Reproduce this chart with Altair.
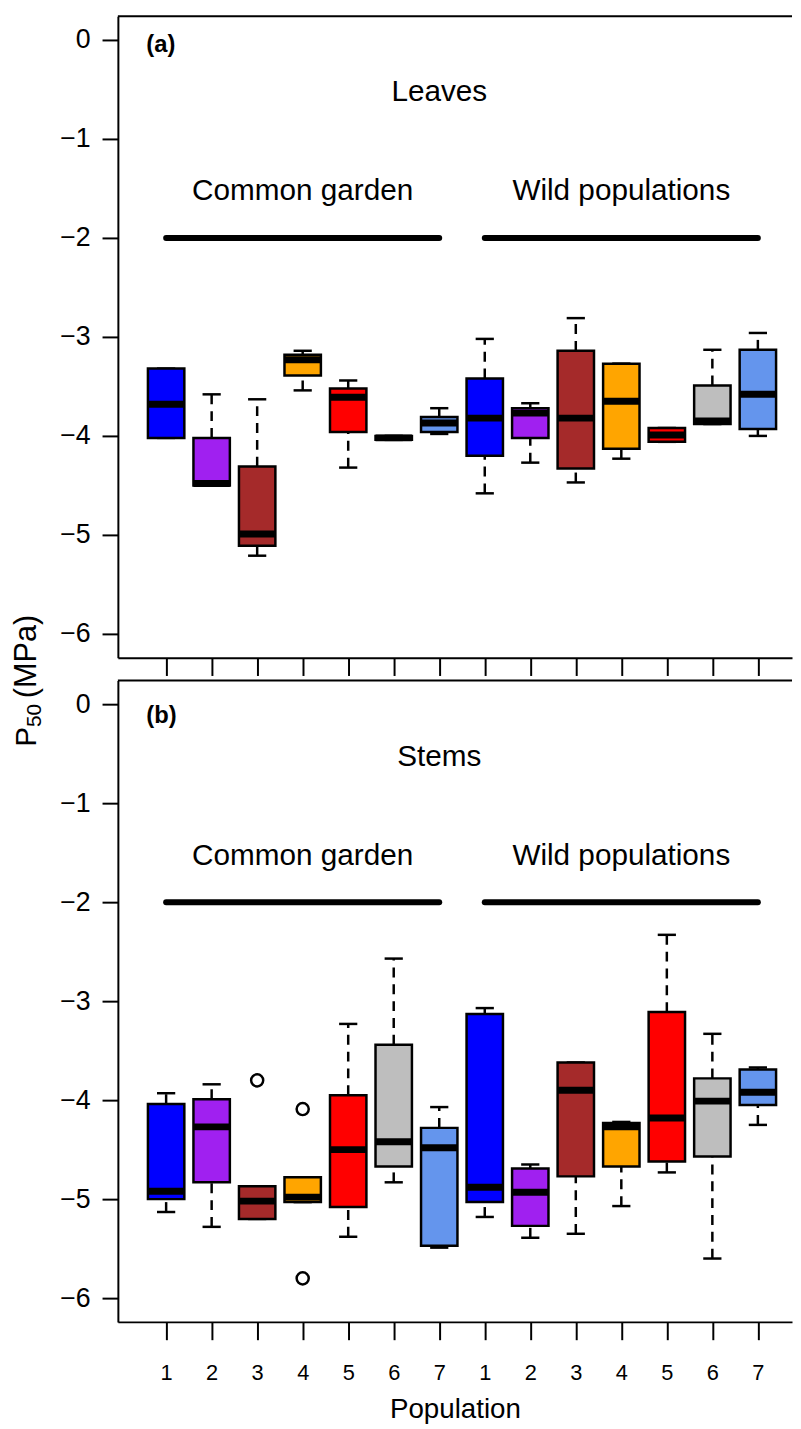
import altair as alt
import pandas as pd

# ---------------- data ----------------
positions = list(range(1, 15))
colors = ["#0000FF", "#A020F0", "#A52A2A", "#FFA500", "#FF0000", "#BEBEBE", "#6495ED"] * 2

# Leaves (panel a)
leaf_min = [-4.02, -4.50, -5.21, -3.54, -4.32, -4.04, -3.98, -4.58, -4.27, -4.47, -4.23, -4.06, -3.88, -4.00]
leaf_q1  = [-4.02, -4.50, -5.11, -3.39, -3.96, -4.04, -3.96, -4.20, -4.02, -4.33, -4.13, -4.06, -3.88, -3.93]
leaf_med = [-3.68, -4.48, -4.99, -3.23, -3.61, -4.02, -3.87, -3.82, -3.77, -3.82, -3.65, -3.99, -3.85, -3.58]
leaf_q3  = [-3.32, -4.02, -4.31, -3.18, -3.52, -4.00, -3.81, -3.42, -3.72, -3.14, -3.27, -3.92, -3.49, -3.13]
leaf_max = [-3.32, -3.58, -3.63, -3.14, -3.44, -4.00, -3.72, -3.02, -3.67, -2.81, -3.27, -3.92, -3.13, -2.96]
leaf_out_pos = []
leaf_out_val = []

# Stems (panel b)
stem_min = [-5.13, -5.28, -5.20, -5.03, -5.38, -4.83, -5.49, -5.18, -5.39, -5.35, -5.07, -4.73, -5.60, -4.25]
stem_q1  = [-5.00, -4.83, -5.20, -5.03, -5.08, -4.67, -5.47, -5.03, -5.27, -4.77, -4.67, -4.62, -4.57, -4.05]
stem_med = [-4.92, -4.27, -5.02, -4.98, -4.50, -4.42, -4.48, -4.88, -4.93, -3.90, -4.27, -4.18, -4.01, -3.92]
stem_q3  = [-4.04, -3.99, -4.87, -4.78, -3.95, -3.44, -4.28, -3.13, -4.69, -3.62, -4.23, -3.11, -3.78, -3.69]
stem_max = [-3.93, -3.84, -4.87, -4.78, -3.23, -2.57, -4.07, -3.07, -4.65, -3.62, -4.22, -2.33, -3.33, -3.67]
stem_out_pos = [3, 4, 4]
stem_out_val = [-3.80, -4.09, -5.80]

group_x1 = [1, 8]
group_x2 = [7, 14]
group_y = [-2, -2]
group_labels = ["Common garden", "Wild populations"]
group_label_x = [4, 11]
group_label_y = [-1.62, -1.62]

y_ticks = [-6, -5, -4, -3, -2, -1, 0]

FONT = "Liberation Sans"
W, H = 681, 648
XDOM = [-0.06, 14.75]
YDOM = [-6.24, 0.24]


def box_df(mins, q1s, meds, q3s, maxs):
    return pd.DataFrame({"pos": positions, "vmin": mins, "q1": q1s, "med": meds,
                         "q3": q3s, "vmax": maxs, "color": colors})


def panel(df, out_pos, out_val, tag, tag_y, organ, bottom_labels, extra=None):
    xs = alt.Scale(domain=XDOM, nice=False, zero=False)
    ys = alt.Scale(domain=YDOM, nice=False, zero=False)
    x_axis = alt.Axis(values=positions, tickSize=18, tickWidth=2, tickColor="black",
                      domain=True, domainColor="black", domainWidth=2, grid=False,
                      labels=bottom_labels,
                      labelExpr="datum.value > 7 ? '' + (datum.value - 7) : '' + datum.value",
                      labelFontSize=22, labelPadding=23, labelColor="black",
                      title="Population" if bottom_labels else None,
                      titleFontSize=28, titleFontWeight="normal", titlePadding=13,
                      titleColor="black")
    y_axis = alt.Axis(values=y_ticks, tickSize=16, tickWidth=2, tickColor="black",
                      domain=True, domainColor="black", domainWidth=2, grid=False,
                      labelFontSize=27, labelPadding=12, labelColor="black", title=None)

    def X(f):
        return alt.X(f, scale=xs, axis=x_axis)

    def Y(f):
        return alt.Y(f, scale=ys, axis=y_axis)

    base = alt.Chart(df).transform_calculate(
        lo="datum.pos - 0.4", hi="datum.pos + 0.4",
        clo="datum.pos - 0.2", chi="datum.pos + 0.2")

    wup = base.mark_rule(color="black", strokeWidth=2.5, strokeDash=[10, 7]).encode(
        x=X("pos:Q"), y=Y("q3:Q"), y2="vmax:Q")
    wdn = base.mark_rule(color="black", strokeWidth=2.5, strokeDash=[10, 7]).encode(
        x=X("pos:Q"), y=Y("vmin:Q"), y2="q1:Q")
    cap_up = base.mark_rule(color="black", strokeWidth=2.5).encode(
        x=X("clo:Q"), x2="chi:Q", y=Y("vmax:Q"))
    cap_dn = base.mark_rule(color="black", strokeWidth=2.5).encode(
        x=X("clo:Q"), x2="chi:Q", y=Y("vmin:Q"))
    box = base.mark_bar(stroke="black", strokeWidth=2.5).encode(
        x=X("lo:Q"), x2="hi:Q", y=Y("q1:Q"), y2="q3:Q",
        color=alt.Color("color:N", scale=None))
    med = base.mark_rule(color="black", strokeWidth=7).encode(
        x=X("lo:Q"), x2="hi:Q", y=Y("med:Q"))

    layers = [wup, wdn, cap_up, cap_dn, box, med]

    if out_pos:
        odf = pd.DataFrame({"pos": out_pos, "val": out_val})
        layers.append(alt.Chart(odf).mark_point(shape="circle", filled=False, color="black",
                                                strokeWidth=2.5, size=150, opacity=1).encode(
            x=X("pos:Q"), y=Y("val:Q")))

    gdf = pd.DataFrame({"x1": group_x1, "x2": group_x2, "y": group_y})
    layers.append(alt.Chart(gdf).mark_rule(color="black", strokeWidth=6, strokeCap="round").encode(
        x=X("x1:Q"), x2="x2:Q", y=Y("y:Q")))

    tdf = pd.DataFrame({"x": group_label_x + [7], "y": group_label_y + [-0.62],
                        "t": group_labels + [organ]})
    layers.append(alt.Chart(tdf).mark_text(fontSize=30, font=FONT, color="black",
                                           align="center", baseline="alphabetic").encode(
        x=X("x:Q"), y=Y("y:Q"), text="t:N"))

    adf = pd.DataFrame({"x": [0.565], "y": [tag_y], "t": [tag]})
    layers.append(alt.Chart(adf).mark_text(fontSize=24, font=FONT, fontWeight="bold",
                                           color="black", align="left", baseline="middle").encode(
        x=X("x:Q"), y=Y("y:Q"), text="t:N"))

    # top edge of the frame (the right edge lies outside the picture in the original)
    layers.append(alt.Chart(pd.DataFrame({"k": [0]})).mark_rule(color="black", strokeWidth=2).encode(
        x=alt.value(0), x2=alt.value(W), y=alt.value(0)))

    if extra:
        layers.extend(extra)

    return alt.layer(*layers).properties(width=W, height=H)


# shared y-axis title, P50 (MPa), drawn as rotated text next to panel a
ytitle = [
    alt.Chart(pd.DataFrame({"t": ["P"]})).mark_text(fontSize=30, font=FONT, angle=270,
                                                    align="left", baseline="alphabetic",
                                                    color="black").encode(
        x=alt.value(-83), y=alt.value(738), text="t:N"),
    alt.Chart(pd.DataFrame({"t": ["50"]})).mark_text(fontSize=21, font=FONT, angle=270,
                                                     align="left", baseline="alphabetic",
                                                     color="black").encode(
        x=alt.value(-78), y=alt.value(718), text="t:N"),
    alt.Chart(pd.DataFrame({"t": ["(MPa)"]})).mark_text(fontSize=31, font=FONT, angle=270,
                                                        align="left", baseline="alphabetic",
                                                        color="black").encode(
        x=alt.value(-83), y=alt.value(689), text="t:N"),
]

pa = panel(box_df(leaf_min, leaf_q1, leaf_med, leaf_q3, leaf_max), leaf_out_pos, leaf_out_val,
           "(a)", -0.05, "Leaves", False, extra=ytitle)
pb = panel(box_df(stem_min, stem_q1, stem_med, stem_q3, stem_max), stem_out_pos, stem_out_val,
           "(b)", -0.12, "Stems", True)

chart = alt.vconcat(pa, pb, spacing=23, bounds="flush").properties(
    padding={"left": 3, "top": 0, "right": 0, "bottom": 5}
).configure_view(stroke=None).configure_axis(labelFont=FONT, titleFont=FONT)

chart.save("out.html", embed_options={"renderer": "svg", "actions": False})
